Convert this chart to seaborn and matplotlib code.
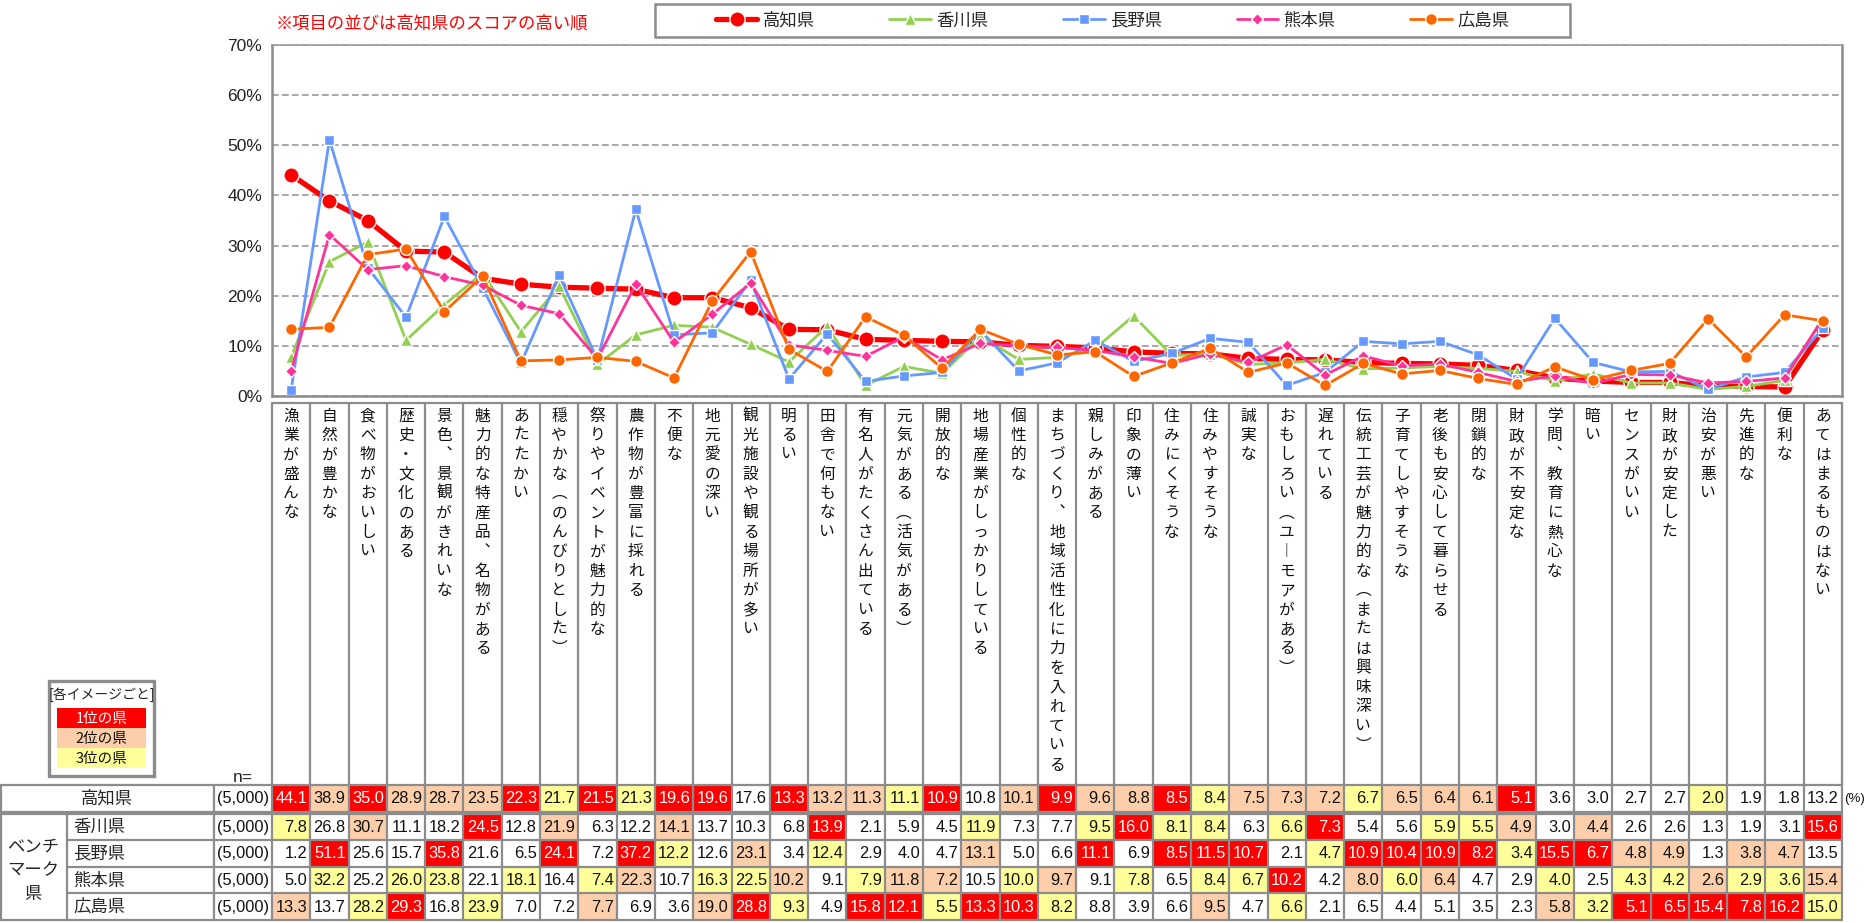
import numpy as np
import pandas as pd
import seaborn as sns
import matplotlib.pyplot as plt
from matplotlib.patches import Rectangle

# ---- data ----
categories = [
    '漁業が盛んな', '自然が豊かな', '食べ物がおいしい', '歴史・文化のある', '景色、景観がきれいな',
    '魅力的な特産品、名物がある', 'あたたかい', '穏やかな（のんびりとした）', '祭りやイベントが魅力的な',
    '農作物が豊富に採れる', '不便な', '地元愛の深い', '観光施設や観る場所が多い', '明るい',
    '田舎で何もない', '有名人がたくさん出ている', '元気がある（活気がある）', '開放的な',
    '地場産業がしっかりしている', '個性的な', 'まちづくり、地域活性化に力を入れている', '親しみがある',
    '印象の薄い', '住みにくそうな', '住みやすそうな', '誠実な', 'おもしろい（ユーモアがある）',
    '遅れている', '伝統工芸が魅力的な（または興味深い）', '子育てしやすそうな', '老後も安心して暮らせる',
    '閉鎖的な', '財政が不安定な', '学問、教育に熱心な', '暗い', 'センスがいい', '財政が安定した',
    '治安が悪い', '先進的な', '便利な', 'あてはまるものはない',
]
prefs = ['高知県', '香川県', '長野県', '熊本県', '広島県']
sample_n = [5000, 5000, 5000, 5000, 5000]

kochi = [44.1, 38.9, 35.0, 28.9, 28.7, 23.5, 22.3, 21.7, 21.5, 21.3, 19.6, 19.6, 17.6, 13.3,
         13.2, 11.3, 11.1, 10.9, 10.8, 10.1, 9.9, 9.6, 8.8, 8.5, 8.4, 7.5, 7.3, 7.2, 6.7, 6.5,
         6.4, 6.1, 5.1, 3.6, 3.0, 2.7, 2.7, 2.0, 1.9, 1.8, 13.2]
kagawa = [7.8, 26.8, 30.7, 11.1, 18.2, 24.5, 12.8, 21.9, 6.3, 12.2, 14.1, 13.7, 10.3, 6.8,
          13.9, 2.1, 5.9, 4.5, 11.9, 7.3, 7.7, 9.5, 16.0, 8.1, 8.4, 6.3, 6.6, 7.3, 5.4, 5.6,
          5.9, 5.5, 4.9, 3.0, 4.4, 2.6, 2.6, 1.3, 1.9, 3.1, 15.6]
nagano = [1.2, 51.1, 25.6, 15.7, 35.8, 21.6, 6.5, 24.1, 7.2, 37.2, 12.2, 12.6, 23.1, 3.4,
          12.4, 2.9, 4.0, 4.7, 13.1, 5.0, 6.6, 11.1, 6.9, 8.5, 11.5, 10.7, 2.1, 4.7, 10.9, 10.4,
          10.9, 8.2, 3.4, 15.5, 6.7, 4.8, 4.9, 1.3, 3.8, 4.7, 13.5]
kumamoto = [5.0, 32.2, 25.2, 26.0, 23.8, 22.1, 18.1, 16.4, 7.4, 22.3, 10.7, 16.3, 22.5, 10.2,
            9.1, 7.9, 11.8, 7.2, 10.5, 10.0, 9.7, 9.1, 7.8, 6.5, 8.4, 6.7, 10.2, 4.2, 8.0, 6.0,
            6.4, 4.7, 2.9, 4.0, 2.5, 4.3, 4.2, 2.6, 2.9, 3.6, 15.4]
hiroshima = [13.3, 13.7, 28.2, 29.3, 16.8, 23.9, 7.0, 7.2, 7.7, 6.9, 3.6, 19.0, 28.8, 9.3,
             4.9, 15.8, 12.1, 5.5, 13.3, 10.3, 8.2, 8.8, 3.9, 6.6, 9.5, 4.7, 6.6, 2.1, 6.5, 4.4,
             5.1, 3.5, 2.3, 5.8, 3.2, 5.1, 6.5, 15.4, 7.8, 16.2, 15.0]

# cell shading as printed in the table (1 = 1位, 2 = 2位, 3 = 3位, 0 = none)
kochi_rank = [1, 2, 1, 2, 2, 2, 1, 3, 1, 3, 1, 1, 0, 1, 2, 2, 3, 1, 0, 2, 1, 2, 2, 1, 3, 2,
              2, 2, 3, 2, 2, 2, 1, 0, 0, 0, 0, 3, 0, 0, 0]
kagawa_rank = [3, 0, 2, 0, 0, 1, 0, 2, 0, 0, 2, 0, 0, 0, 1, 0, 0, 0, 3, 0, 0, 3, 1, 3, 3, 0,
               3, 1, 0, 0, 3, 3, 2, 0, 2, 0, 0, 0, 0, 0, 1]
nagano_rank = [0, 1, 0, 0, 1, 0, 0, 1, 0, 1, 3, 0, 2, 0, 3, 0, 0, 0, 2, 0, 0, 1, 0, 1, 1, 1,
               0, 3, 1, 1, 1, 1, 3, 1, 1, 2, 2, 0, 2, 2, 0]
kumamoto_rank = [0, 3, 0, 3, 3, 0, 3, 0, 3, 2, 0, 3, 3, 2, 0, 3, 2, 2, 0, 3, 2, 0, 3, 0, 3, 3,
                 1, 0, 2, 3, 2, 0, 0, 3, 0, 3, 3, 2, 3, 3, 2]
hiroshima_rank = [2, 0, 3, 1, 0, 3, 0, 0, 2, 0, 0, 2, 1, 3, 0, 1, 1, 3, 1, 1, 3, 0, 0, 0, 2, 0,
                  3, 0, 0, 0, 0, 0, 0, 2, 3, 1, 1, 1, 1, 1, 3]

values = [kochi, kagawa, nagano, kumamoto, hiroshima]
ranks = [kochi_rank, kagawa_rank, nagano_rank, kumamoto_rank, hiroshima_rank]

df = pd.concat([
    pd.DataFrame({'pref': p, 'idx': np.arange(len(categories)), 'value': v})
    for p, v in zip(prefs, values)
])

# ---- styling ----
sns.set_style('white')
plt.rcParams['font.family'] = ['Liberation Sans', 'Noto Sans CJK JP']
CJK = ['Noto Sans CJK JP', 'Liberation Sans']

colors = {'高知県': '#FF0000', '香川県': '#92D050', '長野県': '#6699FF',
          '熊本県': '#FF3399', '広島県': '#FF6600'}
markers = {'高知県': 'o', '香川県': '^', '長野県': 's', '熊本県': 'D', '広島県': 'o'}
msizes = {'高知県': 11, '香川県': 8, '長野県': 7.5, '熊本県': 6.5, '広島県': 8.5}
lwidths = {'高知県': 3.8, '香川県': 2.0, '長野県': 2.0, '熊本県': 2.0, '広島県': 2.0}
rank_colors = {1: '#FF0000', 2: '#FCCFAA', 3: '#FFFF99'}
grey = '#8C8C8C'

W, H = 1865, 923
fig = plt.figure(figsize=(W / 100, H / 100), dpi=100)

# background axes in pixel units for the label grid and the table
bg = fig.add_axes([0, 0, 1, 1], zorder=0)
bg.set_xlim(0, W)
bg.set_ylim(H, 0)
bg.axis('off')

x_left, x_right = 272, 1842
y_top, y_zero = 45, 396
ax = fig.add_axes([x_left / W, (H - y_zero) / H, (x_right - x_left) / W, (y_zero - y_top) / H],
                  zorder=2)

for p in prefs:
    sns.lineplot(data=df[df.pref == p], x='idx', y='value', ax=ax, color=colors[p],
                 lw=lwidths[p], marker=markers[p], markersize=msizes[p],
                 markeredgecolor='white', markeredgewidth=1, label=p, sort=False,
                 errorbar=None, legend=False)

ax.set_xlim(-0.5, len(categories) - 0.5)
ax.set_ylim(0, 70)
ax.set_yticks(range(0, 71, 10))
ax.yaxis.set_major_formatter(lambda v, pos: f'{v:.0f}%')
ax.set_xticks([])
ax.set_xlabel('')
ax.set_ylabel('')
ax.grid(False)
ax.yaxis.grid(True, ls=(0, (4, 2)), color='#9A9A9A', lw=1.2)
ax.tick_params(axis='y', length=0, pad=7, labelsize=12.5, labelcolor='#222222')
for s in ['left', 'right', 'bottom']:
    ax.spines[s].set_color(grey)
    ax.spines[s].set_linewidth(1.8)
ax.spines['top'].set_color('#9A9A9A')
ax.spines['top'].set_linewidth(1.2)

# legend
handles, labels = ax.get_legend_handles_labels()
bg.add_patch(Rectangle((655, 4), 915, 33, fc='white', ec=grey, lw=1.8, zorder=3))
fig.legend(handles, labels, loc='center', bbox_to_anchor=((655 + 1570) / 2 / W, 1 - 20.5 / H),
           ncol=5, frameon=False, handlelength=2.4, handletextpad=0.3,
           columnspacing=4.3, prop={'family': CJK, 'size': 12.5})

# note
bg.text(276, 24, '※項目の並びは高知県のスコアの高い順', color='#FF0000', fontsize=12.5,
        ha='left', va='center', family=CJK)

# ---- category label grid ----
ncol = len(categories)
colw = (x_right - x_left) / ncol
grid_top = 403
tbl_top = 785
tbl_bot = 920
vert = {'、': '︑', '（': '︵', '）': '︶', 'ー': '︱'}

bg.plot([x_left, x_right], [grid_top, grid_top], color=grey, lw=1.6)
for i in range(ncol + 1):
    x = x_left + i * colw
    bg.plot([x, x], [grid_top, tbl_bot], color=grey, lw=1.6)
for i, lab in enumerate(categories):
    xc = x_left + (i + 0.5) * colw
    for j, ch in enumerate(lab):
        bg.text(xc, 416 + j * 19.4, vert.get(ch, ch), ha='center', va='center',
                fontsize=11.3, family=CJK, color='#111111')

# ---- table ----
row_tops = [785, 813.5, 840.1, 866.7, 893.3]
row_h = 26.6
for r, (p, vals, rk) in enumerate(zip(prefs, values, ranks)):
    y0 = row_tops[r]
    yc = y0 + row_h / 2 + 0.5
    for i, (v, k) in enumerate(zip(vals, rk)):
        x0 = x_left + i * colw
        if k:
            bg.add_patch(Rectangle((x0 + 1, y0 + 1), colw - 2, row_h - 2, fc=rank_colors[k],
                                   ec='none', zorder=1))
        bg.text(x0 + colw - 3, yc, f'{v:.1f}', ha='right', va='center', fontsize=11.8,
                color='white' if k == 1 else '#111111', zorder=2)
    bg.text(243, yc, f'({sample_n[r]:,})', ha='center', va='center', fontsize=11.8,
            color='#111111')
    if r == 0:
        bg.text(107, yc, p, ha='center', va='center', fontsize=12.5, family=CJK)
    else:
        bg.text(73, yc, p, ha='left', va='center', fontsize=12.5, family=CJK)

for i, t in enumerate(['ベンチ', 'マーク', '県']):
    bg.text(33, 847 + i * 23.5, t, ha='center', va='center', fontsize=12.5, family=CJK)

bg.text(1844, row_tops[0] + row_h / 2 + 0.5, '(%)', ha='left', va='center', fontsize=9.5,
        color='#111111')

# table rules
for y in [785, 811.6, 814.2, 920]:
    bg.plot([0, x_right], [y, y], color=grey, lw=1.6)
for y in row_tops[2:]:
    bg.plot([67, x_right], [y, y], color=grey, lw=1.6)
bg.plot([1, 1], [785, 920], color=grey, lw=1.6)
bg.plot([67, 67], [813, 920], color=grey, lw=1.6)
bg.plot([214, 214], [785, 920], color=grey, lw=1.6)

bg.text(233, 777, 'n=', ha='left', va='center', fontsize=12.5)

# rank key box
bg.add_patch(Rectangle((49, 681), 105, 95, fc='white', ec=grey, lw=2.4, zorder=1))
bg.text(101.5, 695, '[各イメージごと]', ha='center', va='center', fontsize=10, family=CJK)
key_labels = ['1位の県', '2位の県', '3位の県']
for k, lab in enumerate(key_labels, start=1):
    y0 = 708 + (k - 1) * 20
    bg.add_patch(Rectangle((57, y0), 89, 20, fc=rank_colors[k], ec='none', zorder=2))
    bg.text(101.5, y0 + 10.5, lab, ha='center', va='center', fontsize=10.5, family=CJK,
            color='white' if k == 1 else '#111111', zorder=3)

fig.savefig('out.png', dpi=100)
